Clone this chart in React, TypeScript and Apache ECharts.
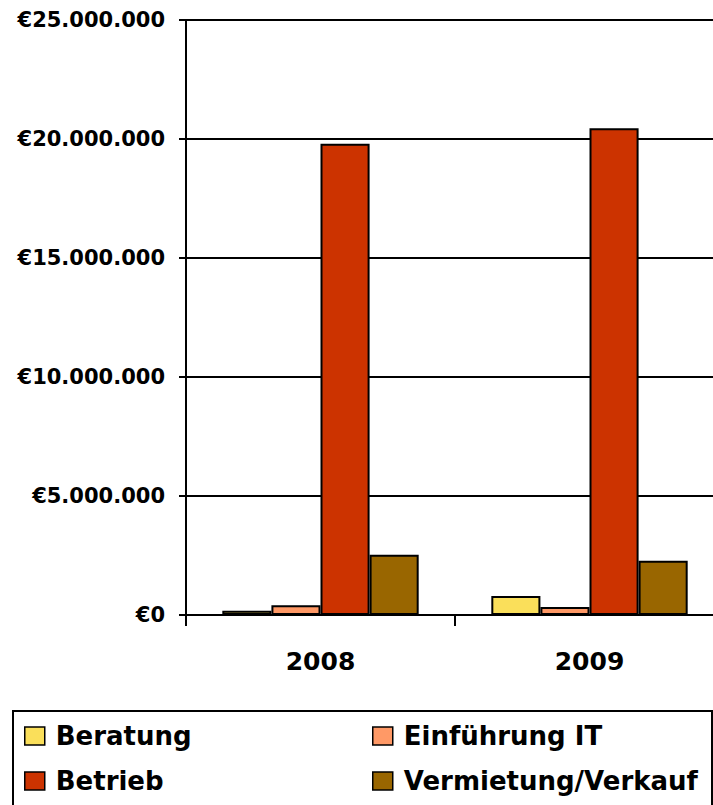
import React, { useEffect, useRef } from "react";
import * as echarts from "echarts";

const categories = ["2008", "2009"];
const seriesNames = ["Beratung", "Einführung IT", "Betrieb", "Vermietung/Verkauf"];
const beratung = [180000, 800000];
const einfuehrungIT = [410000, 340000];
const betrieb = [19800000, 20450000];
const vermietung = [2530000, 2280000];
const colors = ["#FADF5A", "#FF9966", "#CC3300", "#996600"];
const yMin = 0;
const yMax = 25000000;
const yInterval = 5000000;

function fmtEuro(v: number): string {
  const s = Math.round(v).toString().replace(/\B(?=(\d{3})+(?!\d))/g, ".");
  return "€" + s;
}

export default function App() {
  const ref = useRef<HTMLDivElement>(null);
  useEffect(() => {
    if (!ref.current) return;
    const chart = echarts.init(ref.current, undefined, { renderer: "svg" });
    const values = [beratung, einfuehrungIT, betrieb, vermietung];
    const font = "DejaVu Sans";
    chart.setOption({
      animation: false,
      backgroundColor: "#ffffff",
      grid: { left: 186, top: 20, bottom: 190, right: 6, containLabel: false },
      xAxis: {
        type: "category",
        data: categories,
        axisLine: { lineStyle: { color: "#000", width: 2 } },
        axisTick: { show: true, length: 11, lineStyle: { color: "#000", width: 2 } },
        axisLabel: {
          margin: 34,
          color: "#000",
          fontFamily: font,
          fontWeight: "bold",
          fontSize: 25,
        },
      },
      yAxis: {
        type: "value",
        min: yMin,
        max: yMax,
        interval: yInterval,
        axisLine: { show: true, lineStyle: { color: "#000", width: 2 } },
        axisTick: { show: true, length: 7, lineStyle: { color: "#000", width: 2 } },
        splitLine: { show: true, lineStyle: { color: "#000", width: 2 } },
        axisLabel: {
          margin: 21,
          color: "#000",
          fontFamily: font,
          fontWeight: "bold",
          fontSize: 21,
          formatter: (v: number) => fmtEuro(v),
        },
      },
      legend: [
        {
          orient: "vertical",
          left: 24,
          top: 723,
          padding: 0,
          itemGap: 19,
          itemWidth: 20,
          itemHeight: 18,
          icon: "rect",
          data: [seriesNames[0], seriesNames[2]],
          itemStyle: { borderColor: "#000", borderWidth: 1.5 },
          textStyle: {
            fontFamily: font,
            fontWeight: "bold",
            fontSize: 26,
            color: "#000",
            padding: [0, 0, 0, 6],
          },
        },
        {
          orient: "vertical",
          left: 372,
          top: 723,
          padding: 0,
          itemGap: 19,
          itemWidth: 20,
          itemHeight: 18,
          icon: "rect",
          data: [seriesNames[1], seriesNames[3]],
          itemStyle: { borderColor: "#000", borderWidth: 1.5 },
          textStyle: {
            fontFamily: font,
            fontWeight: "bold",
            fontSize: 26,
            color: "#000",
            padding: [0, 0, 0, 6],
          },
        },
      ],
      graphic: [
        {
          type: "rect",
          shape: { x: 13, y: 711, width: 699, height: 110 },
          style: { fill: "none", stroke: "#000", lineWidth: 2 },
          silent: true,
          z: -1,
        },
      ],
      series: seriesNames.map((name, i) => ({
        name,
        type: "bar",
        data: values[i],
        barGap: "0%",
        barCategoryGap: "27%",
        itemStyle: { color: colors[i], borderColor: "#000", borderWidth: 2 },
      })),
    });
    return () => chart.dispose();
  }, []);
  return (
    <div
      style={{
        position: "absolute",
        left: 0,
        top: 0,
        width: 713,
        height: 805,
        overflow: "hidden",
        background: "#fff",
      }}
    >
      <div ref={ref} style={{ width: 730, height: 805 }} />
    </div>
  );
}
